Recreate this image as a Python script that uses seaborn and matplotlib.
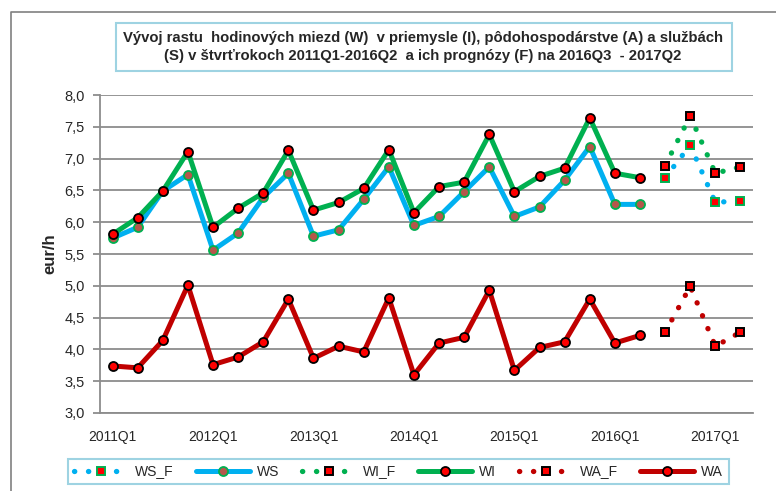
import numpy as np
import pandas as pd
import matplotlib
matplotlib.use('Agg')
import matplotlib.pyplot as plt
from matplotlib.patches import Rectangle
from matplotlib.lines import Line2D
import seaborn as sns

# quarters 2011Q1 .. 2017Q2
quarters = [f'{y}Q{q}' for y in range(2011, 2018) for q in range(1, 5)][:26]

# actual values 2011Q1-2016Q2
ws = [5.75, 5.92, 6.49, 6.75, 5.56, 5.83, 6.39, 6.77, 5.78, 5.88, 6.36,
      6.87, 5.95, 6.09, 6.48, 6.87, 6.09, 6.24, 6.66, 7.19, 6.28, 6.28]
wi = [5.81, 6.07, 6.49, 7.11, 5.92, 6.22, 6.46, 7.13, 6.19, 6.31, 6.53,
      7.14, 6.15, 6.56, 6.63, 7.38, 6.48, 6.72, 6.85, 7.64, 6.77, 6.70]
wa = [3.74, 3.71, 4.14, 5.01, 3.76, 3.88, 4.12, 4.79, 3.86, 4.05, 3.96,
      4.81, 3.60, 4.10, 4.19, 4.93, 3.67, 4.03, 4.12, 4.79, 4.10, 4.22]

# forecasts 2016Q3-2017Q2
ws_f = [6.70, 7.21, 6.31, 6.34]
wi_f = [6.89, 7.67, 6.77, 6.87]
wa_f = [4.27, 4.99, 4.05, 4.27]

tick_labels = ['2011Q1', '2012Q1', '2013Q1', '2014Q1', '2015Q1', '2016Q1', '2017Q1']

BLUE = '#00B0F0'
GREEN = '#00B050'
DRED = '#C00000'
RED = '#FF0000'
BROWN = '#B5574B'
GRID = '#8C8C8C'

sns.set_style('white')
plt.rcParams['font.family'] = ['Liberation Sans', 'DejaVu Sans']

fig = plt.figure(figsize=(7.76, 4.91), dpi=100)
ax = fig.add_axes([100 / 776, 1 - 413 / 491, 653 / 776, (413 - 95) / 491])

x_act = list(range(len(ws)))
x_f = list(range(len(ws), len(ws) + len(ws_f)))
dotted = (0, (0.05, 2.6))

common = dict(linewidth=3.6, markersize=6.5, markeredgewidth=1.3, ax=ax)
fcommon = dict(linewidth=3.8, markersize=6.0, markeredgewidth=1.4,
               linestyle=dotted, dash_capstyle='round', ax=ax)

sns.lineplot(x=x_f, y=ws_f, color=BLUE, marker='s', markerfacecolor=RED,
             markeredgecolor=GREEN, label='WS_F', **fcommon)
sns.lineplot(x=x_act, y=ws, color=BLUE, marker='o', markerfacecolor=BROWN,
             markeredgecolor=GREEN, label='WS', **common)
sns.lineplot(x=x_f, y=wi_f, color=GREEN, marker='s', markerfacecolor=RED,
             markeredgecolor='black', label='WI_F', **fcommon)
sns.lineplot(x=x_act, y=wi, color=GREEN, marker='o', markerfacecolor=RED,
             markeredgecolor='black', label='WI', **common)
sns.lineplot(x=x_f, y=wa_f, color=DRED, marker='s', markerfacecolor=RED,
             markeredgecolor='black', label='WA_F', **fcommon)
sns.lineplot(x=x_act, y=wa, color=DRED, marker='o', markerfacecolor=RED,
             markeredgecolor='black', label='WA', **common)

# axes
ax.set_xlim(-0.5, len(quarters) - 0.5)
ax.set_ylim(3.0, 8.0)
yt = np.arange(3.0, 8.01, 0.5)
ax.set_yticks(yt)
ax.set_yticklabels([f'{v:.1f}'.replace('.', ',') for v in yt], fontsize=10.5)
ax.set_xticks([quarters.index(t) for t in tick_labels])
ax.set_xticklabels(tick_labels, fontsize=10)
ax.set_xticks(np.arange(-0.5, len(quarters), 1.0), minor=True)
ax.tick_params(axis='x', which='major', length=0, pad=12)
ax.tick_params(axis='x', which='minor', length=6, width=1.3, color=GRID, direction='out')
ax.tick_params(axis='y', length=5, width=1.3, color=GRID, direction='out', pad=6, left=True)
ax.set_xlabel('')
ax.set_ylabel('eur/h', fontsize=12, fontweight='bold', labelpad=5)
ax.yaxis.grid(True, color=GRID, linewidth=1.3)
ax.set_axisbelow(True)
for s in ['top', 'right']:
    ax.spines[s].set_visible(False)
for s in ['left', 'bottom']:
    ax.spines[s].set_color(GRID)
    ax.spines[s].set_linewidth(1.3)

# legend
leg = ax.legend(loc='center', bbox_to_anchor=(398.5 / 776, 1 - 471.5 / 491),
                bbox_transform=fig.transFigure, ncol=6, fontsize=10,
                handlelength=3.9, handletextpad=0.5, columnspacing=1.6,
                numpoints=1, fancybox=False, framealpha=1, borderpad=0.4,
                edgecolor='#9ED3E2')
leg.get_frame().set_linewidth(1.5)

# title box
fig.patches.append(Rectangle((116 / 776, 1 - 71 / 491), (732 - 116) / 776, 48 / 491,
                             transform=fig.transFigure, facecolor='white',
                             edgecolor='#9ED3E2', linewidth=1.5))
fig.text(423 / 776, 1 - 47 / 491,
         'Vývoj rastu  hodinových miezd (W)  v priemysle (I), pôdohospodárstve (A) a službách\n'
         '(S) v štvrťrokoch 2011Q1-2016Q2  a ich prognózy (F) na 2016Q3  - 2017Q2',
         ha='center', va='center', ma='center', fontsize=10.7, fontweight='bold',
         linespacing=1.35)

# outer chart frame
fig.add_artist(Line2D([11 / 776, 11 / 776, 1.0], [0.0, 1 - 12 / 491, 1 - 12 / 491],
                      transform=fig.transFigure, color='#808080', linewidth=1.2))

fig.savefig('out.png', dpi=100)
